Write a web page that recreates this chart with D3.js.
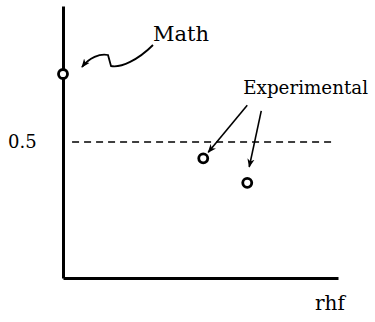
<!DOCTYPE html>
<html><head><meta charset="utf-8">
<script src="https://cdn.jsdelivr.net/npm/d3@7"></script>
<style>html,body{margin:0;padding:0;background:#fff;}svg{display:block;}</style>
</head><body>
<svg id="chart" width="375" height="322"></svg>
<script>
const labels = ["Math", "Experimental", "Experimental"];
const xValues = [0, 0.51, 0.67];
const yValues = [0.75, 0.44, 0.35];
const refValue = 0.5;
const yTickLabels = ["0.5"];
const xAxisLabel = "rhf";

const svg = d3.select("#chart");
const x = d3.scaleLinear().domain([0, 1]).range([63, 338]);
const y = d3.scaleLinear().domain([0, 1]).range([278, 6]);
const font = "'DejaVu Serif', serif";

svg.append("defs").append("marker")
  .attr("id", "ah").attr("viewBox", "0 0 10 10").attr("refX", 9).attr("refY", 5)
  .attr("markerWidth", 9).attr("markerHeight", 9).attr("markerUnits", "userSpaceOnUse")
  .attr("orient", "auto")
  .append("path").attr("d", "M0,1 L10,5 L0,9 L3,5 Z").attr("fill", "#000");

// axes
const xAxis = d3.axisBottom(x).tickValues([]).tickSize(0).tickSizeOuter(0);
const yAxis = d3.axisLeft(y).tickValues([]).tickSize(0).tickSizeOuter(0);
svg.append("g").attr("transform", `translate(0,${y(0)})`).call(xAxis)
  .select(".domain").attr("stroke", "#000").attr("stroke-width", 3);
svg.append("g").attr("transform", `translate(${x(0)},0)`).call(yAxis)
  .select(".domain").attr("stroke", "#000").attr("stroke-width", 3);

// dashed reference line
svg.append("line")
  .attr("x1", x(0.033)).attr("x2", x(0.993))
  .attr("y1", y(refValue)).attr("y2", y(refValue))
  .attr("stroke", "#000").attr("stroke-width", 1.6).attr("stroke-dasharray", "7,5");

svg.append("text").text(yTickLabels[0])
  .attr("x", 8).attr("y", y(refValue) + 6)
  .attr("font-family", font).attr("font-size", 18).attr("fill", "#000");

svg.append("text").text(xAxisLabel)
  .attr("x", 315).attr("y", 310)
  .attr("font-family", font).attr("font-size", 20).attr("fill", "#000");

// points
svg.selectAll("circle.pt").data(xValues).join("circle").attr("class", "pt")
  .attr("cx", (d) => x(d)).attr("cy", (d, i) => y(yValues[i])).attr("r", 4.5)
  .attr("fill", "#fff").attr("stroke", "#000").attr("stroke-width", 2.8);

// Math label + wavy arrow
const mx = x(xValues[0]), my = y(yValues[0]);
svg.append("text").text(labels[0]).attr("x", mx + 90).attr("y", my - 33)
  .attr("font-family", font).attr("font-size", 21).attr("fill", "#000");
svg.append("path")
  .attr("d", `M${mx+90},${my-29} C${mx+75},${my-14} ${mx+58},${my-6} ${mx+48},${my-8}
              L${mx+45},${my-19}
              C${mx+37},${my-21} ${mx+26},${my-16} ${mx+19},${my-7}`)
  .attr("fill", "none").attr("stroke", "#000").attr("stroke-width", 1.8)
  .attr("marker-end", "url(#ah)");

// Experimental label + arrows
const e1x = x(xValues[1]), e1y = y(yValues[1]);
const e2x = x(xValues[2]), e2y = y(yValues[2]);
svg.append("text").text(labels[1]).attr("x", e1x + 40).attr("y", e1y - 64)
  .attr("font-family", font).attr("font-size", 18.3).attr("fill", "#000");
svg.append("line")
  .attr("x1", e1x + 44).attr("y1", e1y - 53).attr("x2", e1x + 5).attr("y2", e1y - 6)
  .attr("stroke", "#000").attr("stroke-width", 1.6).attr("marker-end", "url(#ah)");
svg.append("line")
  .attr("x1", e2x + 14).attr("y1", e2y - 72).attr("x2", e2x + 2).attr("y2", e2y - 16)
  .attr("stroke", "#000").attr("stroke-width", 1.6).attr("marker-end", "url(#ah)");
</script>
</body></html>
